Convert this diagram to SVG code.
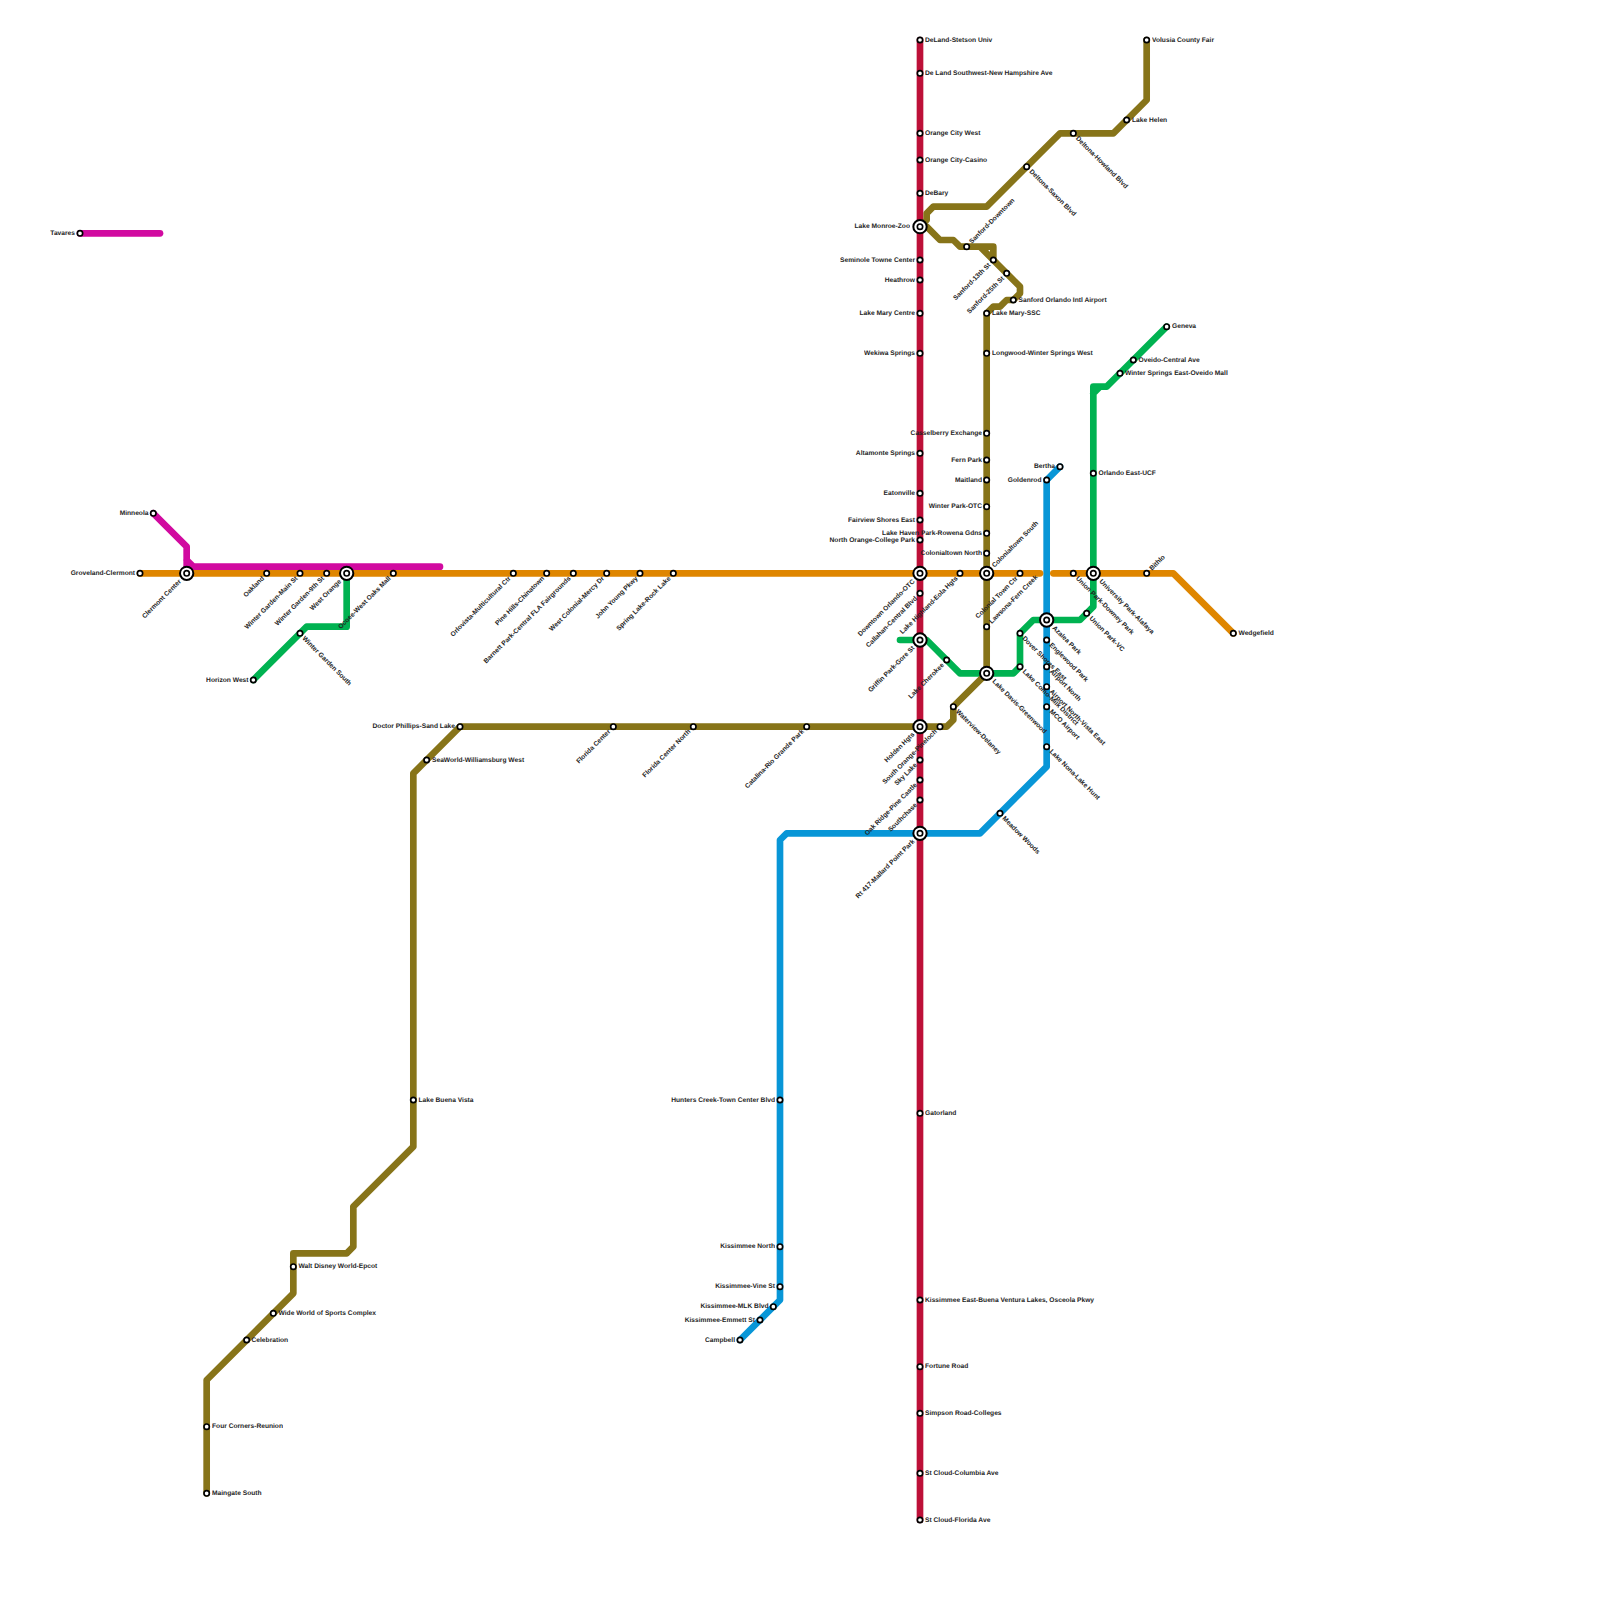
<svg xmlns="http://www.w3.org/2000/svg" width="1600" height="1600" viewBox="0 0 1600 1600">
<style>
.l{fill:none;stroke-width:6.67;stroke-linejoin:round;stroke-linecap:round}
.red{stroke:#bd1038}.org{stroke:#df8600}.olv{stroke:#877419}.blu{stroke:#0896d7}.grn{stroke:#00b251}.mag{stroke:#d10aa0}
circle{fill:#fff;stroke:#000;stroke-width:1.67}
.o{stroke-width:2}
text{font-family:"Liberation Sans",Arial,sans-serif;font-size:6.67px;font-weight:700;fill:#222;text-rendering:geometricPrecision;opacity:.99}
.e{text-anchor:end}
</style>
<rect width="1600" height="1600" fill="#fff"/>
<g id="connectors">
<path class="l red" d="M920 40V1520"/>
<path class="l blu" d="M1060 466.67L1046.67 480V766.67L980 833.33H786.67L780 840V1300L740 1340"/>
<path class="l org" d="M140 573.33H1040"/>
<path class="l org" d="M1053.33 573.33H1173.33L1233.33 633.33"/>
<path class="l mag" d="M80 233.33H160"/>
<path class="l mag" d="M153.33 513.33L186.67 546.67V573.33M186.67 560L193.33 566.67H440"/>
<path class="l grn" d="M253.33 680L306.67 626.67H346.67V573.33"/>
<path class="l grn" d="M900 640H926.67L960 673.33H1013.33L1020 666.67V633.33L1033.33 620H1080L1093.33 606.67V386.67H1106.67L1166.67 326.67M1093.33 393.33L1100 386.67"/>
<path class="l olv" d="M920 226.67L926.67 220V213.33L933.33 206.67H986.67L1060 133.33H1113.33L1146.67 100V40"/>
<path class="l olv" d="M920 226.67H926.67L940 240H953.33L960 246.67H993.33V260M980 246.67L1020 286.67V293.33L1013.33 300H1006.67L1000 306.67H993.33L986.67 313.33V673.33L953.33 706.67V720L946.67 726.67H460L413.33 773.33V1146.67L353.33 1206.67V1246.67L346.67 1253.33H293.33V1293.33L206.67 1380V1493.33"/>
</g>
<g id="red-nodes">
<g id="n-deland"><circle cx="920" cy="40" r="2.67"/><text x="925" y="41.7">DeLand-Stetson Univ</text></g>
<g id="n-delandsw"><circle cx="920" cy="73.33" r="2.67"/><text x="925" y="75">De Land Southwest-New Hampshire Ave</text></g>
<g id="n-ocwest"><circle cx="920" cy="133.33" r="2.67"/><text x="925" y="135">Orange City West</text></g>
<g id="n-occasino"><circle cx="920" cy="160" r="2.67"/><text x="925" y="161.7">Orange City-Casino</text></g>
<g id="n-debary"><circle cx="920" cy="193.33" r="2.67"/><text x="925" y="195">DeBary</text></g>
<g id="n-seminole"><circle cx="920" cy="260" r="2.67"/><text class="e" x="915" y="261.7">Seminole Towne Center</text></g>
<g id="n-heathrow"><circle cx="920" cy="280" r="2.67"/><text class="e" x="915" y="281.7">Heathrow</text></g>
<g id="n-lakemaryc"><circle cx="920" cy="313.33" r="2.67"/><text class="e" x="915" y="315">Lake Mary Centre</text></g>
<g id="n-wekiwa"><circle cx="920" cy="353.33" r="2.67"/><text class="e" x="915" y="355">Wekiwa Springs</text></g>
<g id="n-altamonte"><circle cx="920" cy="453.33" r="2.67"/><text class="e" x="915" y="455">Altamonte Springs</text></g>
<g id="n-eatonville"><circle cx="920" cy="493.33" r="2.67"/><text class="e" x="915" y="495">Eatonville</text></g>
<g id="n-fairview"><circle cx="920" cy="520" r="2.67"/><text class="e" x="915" y="521.7">Fairview Shores East</text></g>
<g id="n-northorange"><circle cx="920" cy="540" r="2.67"/><text class="e" x="915" y="541.7">North Orange-College Park</text></g>
<g id="n-callahan"><circle cx="920" cy="593.33" r="2.67"/><text class="e" x="916" y="599.5" transform="rotate(-45 916 597.33)">Callahan-Central Blvd</text></g>
<g id="n-skylake"><circle cx="920" cy="760" r="2.67"/><text class="e" x="916" y="766" transform="rotate(-45 916 764)">Sky Lake</text></g>
<g id="n-oakridge"><circle cx="920" cy="780" r="2.67"/><text class="e" x="916" y="786" transform="rotate(-45 916 784)">Oak Ridge-Pine Castle</text></g>
<g id="n-southchase"><circle cx="920" cy="800" r="2.67"/><text class="e" x="916" y="806" transform="rotate(-45 916 804)">Southchase</text></g>
<g id="n-gatorland"><circle cx="920" cy="1113.33" r="2.67"/><text x="925" y="1115">Gatorland</text></g>
<g id="n-kissimmeeeast"><circle cx="920" cy="1300" r="2.67"/><text x="925" y="1301.7">Kissimmee East-Buena Ventura Lakes, Osceola Pkwy</text></g>
<g id="n-fortune"><circle cx="920" cy="1366.67" r="2.67"/><text x="925" y="1368.4">Fortune Road</text></g>
<g id="n-simpson"><circle cx="920" cy="1413.33" r="2.67"/><text x="925" y="1415">Simpson Road-Colleges</text></g>
<g id="n-columbia"><circle cx="920" cy="1473.33" r="2.67"/><text x="925" y="1475">St Cloud-Columbia Ave</text></g>
<g id="n-florida"><circle cx="920" cy="1520" r="2.67"/><text x="925" y="1521.7">St Cloud-Florida Ave</text></g>
</g>
<g id="olive-nodes">
<g id="n-lakemaryssc"><circle cx="986.67" cy="313.33" r="2.67"/><text x="992" y="315">Lake Mary-SSC</text></g>
<g id="n-longwood"><circle cx="986.67" cy="353.33" r="2.67"/><text x="992" y="355">Longwood-Winter Springs West</text></g>
<g id="n-casselberry"><circle cx="986.67" cy="433.33" r="2.67"/><text class="e" x="982" y="435">Casselberry Exchange</text></g>
<g id="n-fernpark"><circle cx="986.67" cy="460" r="2.67"/><text class="e" x="982" y="461.7">Fern Park</text></g>
<g id="n-maitland"><circle cx="986.67" cy="480" r="2.67"/><text class="e" x="982" y="481.7">Maitland</text></g>
<g id="n-winterpark"><circle cx="986.67" cy="506.67" r="2.67"/><text class="e" x="982" y="508.4">Winter Park-OTC</text></g>
<g id="n-lakehaven"><circle cx="986.67" cy="533.33" r="2.67"/><text class="e" x="982" y="535">Lake Haven Park-Rowena Gdns</text></g>
<g id="n-colonialnorth"><circle cx="986.67" cy="553.33" r="2.67"/><text class="e" x="982" y="555">Colonialtown North</text></g>
<g id="n-lawsona"><circle cx="986.67" cy="626.67" r="2.67"/><text x="990.5" y="624.5" transform="rotate(-45 990.5 622.67)">Lawsona-Fern Creek</text></g>
<g id="n-waterview"><circle cx="953.33" cy="706.67" r="2.67"/><text x="957" y="712.5" transform="rotate(45 957 710.5)">Waterview-Delaney</text></g>
<g id="n-pineloch"><circle cx="940" cy="726.67" r="2.67"/><text class="e" x="936" y="732.5" transform="rotate(-45 936 730.67)">South Orange-Pineloch</text></g>
<g id="n-catalina"><circle cx="806.67" cy="726.67" r="2.67"/><text class="e" x="803" y="732.5" transform="rotate(-45 803 730.67)">Catalina-Rio Grande Park</text></g>
<g id="n-flcnorth"><circle cx="693.33" cy="726.67" r="2.67"/><text class="e" x="689.5" y="732.5" transform="rotate(-45 689.5 730.67)">Florida Center North</text></g>
<g id="n-flc"><circle cx="613.33" cy="726.67" r="2.67"/><text class="e" x="609.5" y="732.5" transform="rotate(-45 609.5 730.67)">Florida Center</text></g>
<g id="n-drphillips"><circle cx="460" cy="726.67" r="2.67"/><text class="e" x="455" y="728.4">Doctor Phillips-Sand Lake</text></g>
<g id="n-seaworld"><circle cx="426.67" cy="760" r="2.67"/><text x="432" y="761.7">SeaWorld-Williamsburg West</text></g>
<g id="n-buenavista"><circle cx="413.33" cy="1100" r="2.67"/><text x="418.5" y="1101.7">Lake Buena Vista</text></g>
<g id="n-wdw"><circle cx="293.33" cy="1266.67" r="2.67"/><text x="298.5" y="1268.4">Walt Disney World-Epcot</text></g>
<g id="n-wideworld"><circle cx="273.33" cy="1313.33" r="2.67"/><text x="278.5" y="1315">Wide World of Sports Complex</text></g>
<g id="n-celebration"><circle cx="246.67" cy="1340" r="2.67"/><text x="251.5" y="1341.7">Celebration</text></g>
<g id="n-fourcorners"><circle cx="206.67" cy="1426.67" r="2.67"/><text x="212" y="1428.4">Four Corners-Reunion</text></g>
<g id="n-maingate"><circle cx="206.67" cy="1493.33" r="2.67"/><text x="212" y="1495">Maingate South</text></g>
<g id="n-sanforddt"><circle cx="966.67" cy="246.67" r="2.67"/><text x="970.5" y="244.5" transform="rotate(-45 970.5 242.67)">Sanford-Downtown</text></g>
<g id="n-sanford13"><circle cx="993.33" cy="260" r="2.67"/><text class="e" x="989.5" y="266" transform="rotate(-45 989.5 264)">Sanford-13th St</text></g>
<g id="n-sanford25"><circle cx="1006.67" cy="273.33" r="2.67"/><text class="e" x="1003" y="279.5" transform="rotate(-45 1003 277.33)">Sanford-25th St</text></g>
<g id="n-sanfordintl"><circle cx="1013.33" cy="300" r="2.67"/><text x="1018.5" y="301.7">Sanford Orlando Intl Airport</text></g>
<g id="n-saxon"><circle cx="1026.67" cy="166.67" r="2.67"/><text x="1030.5" y="172.5" transform="rotate(45 1030.5 170.5)">Deltona-Saxon Blvd</text></g>
<g id="n-howland"><circle cx="1073.33" cy="133.33" r="2.67"/><text x="1077" y="139.5" transform="rotate(45 1077 137.33)">Deltona-Howland Blvd</text></g>
<g id="n-lakehelen"><circle cx="1126.67" cy="120" r="2.67"/><text x="1132" y="121.7">Lake Helen</text></g>
<g id="n-volusia"><circle cx="1146.67" cy="40" r="2.67"/><text x="1152" y="41.7">Volusia County Fair</text></g>
</g>
<g id="orange-nodes">
<g id="n-groveland"><circle cx="140" cy="573.33" r="2.67"/><text class="e" x="135" y="575">Groveland-Clermont</text></g>
<g id="n-oakland"><circle cx="266.67" cy="573.33" r="2.67"/><text class="e" x="263" y="579.5" transform="rotate(-45 263 577.33)">Oakland</text></g>
<g id="n-wgmain"><circle cx="300" cy="573.33" r="2.67"/><text class="e" x="296.5" y="579.5" transform="rotate(-45 296.5 577.33)">Winter Garden-Main St</text></g>
<g id="n-wg9th"><circle cx="326.67" cy="573.33" r="2.67"/><text class="e" x="323" y="579.5" transform="rotate(-45 323 577.33)">Winter Garden-9th St</text></g>
<g id="n-ocoee"><circle cx="393.33" cy="573.33" r="2.67"/><text class="e" x="389.5" y="579.5" transform="rotate(-45 389.5 577.33)">Ocoee-West Oaks Mall</text></g>
<g id="n-orlovista"><circle cx="513.33" cy="573.33" r="2.67"/><text class="e" x="509.5" y="579.5" transform="rotate(-45 509.5 577.33)">Orlovista-Multicultural Ctr</text></g>
<g id="n-pinehills"><circle cx="546.67" cy="573.33" r="2.67"/><text class="e" x="543" y="579.5" transform="rotate(-45 543 577.33)">Pine Hills-Chinatown</text></g>
<g id="n-barnett"><circle cx="573.33" cy="573.33" r="2.67"/><text class="e" x="569.5" y="579.5" transform="rotate(-45 569.5 577.33)">Barnett Park-Central FLA Fairgrounds</text></g>
<g id="n-westcolonial"><circle cx="606.67" cy="573.33" r="2.67"/><text class="e" x="603" y="579.5" transform="rotate(-45 603 577.33)">West Colonial-Mercy Dr</text></g>
<g id="n-johnyoung"><circle cx="640" cy="573.33" r="2.67"/><text class="e" x="636.5" y="579.5" transform="rotate(-45 636.5 577.33)">John Young Pkwy</text></g>
<g id="n-springlake"><circle cx="673.33" cy="573.33" r="2.67"/><text class="e" x="669.5" y="579.5" transform="rotate(-45 669.5 577.33)">Spring Lake-Rock Lake</text></g>
<g id="n-highland"><circle cx="960" cy="573.33" r="2.67"/><text class="e" x="956.5" y="579.5" transform="rotate(-45 956.5 577.33)">Lake Highland-Eola Hgts</text></g>
<g id="n-colonialctr"><circle cx="1020" cy="573.33" r="2.67"/><text class="e" x="1016.5" y="579.5" transform="rotate(-45 1016.5 577.33)">Colonial Town Ctr</text></g>
<g id="n-unionpark"><circle cx="1073.33" cy="573.33" r="2.67"/><text x="1077" y="579.5" transform="rotate(45 1077 577.33)">Union Park-Downey Park</text></g>
<g id="n-bithlo"><circle cx="1146.67" cy="573.33" r="2.67"/><text x="1150.5" y="571.5" transform="rotate(-45 1150.5 569.33)">Bithlo</text></g>
<g id="n-wedgefield"><circle cx="1233.33" cy="633.33" r="2.67"/><text x="1238.5" y="635">Wedgefield</text></g>
</g>
<g id="magenta-nodes">
<g id="n-tavares"><circle cx="80" cy="233.33" r="2.67"/><text class="e" x="75" y="235">Tavares</text></g>
<g id="n-minneola"><circle cx="153.33" cy="513.33" r="2.67"/><text class="e" x="148.5" y="515">Minneola</text></g>
</g>
<g id="green-nodes">
<g id="n-horizon"><circle cx="253.33" cy="680" r="2.67"/><text class="e" x="248.5" y="681.7">Horizon West</text></g>
<g id="n-wgsouth"><circle cx="300" cy="633.33" r="2.67"/><text x="303.5" y="639.5" transform="rotate(45 303.5 637.33)">Winter Garden South</text></g>
<g id="n-cherokee"><circle cx="946.67" cy="660" r="2.67"/><text class="e" x="943" y="666" transform="rotate(-45 943 664)">Lake Cherokee</text></g>
<g id="n-dover"><circle cx="1020" cy="633.33" r="2.67"/><text x="1023.5" y="639.5" transform="rotate(45 1023.5 637.33)">Dover Shores East</text></g>
<g id="n-como"><circle cx="1020" cy="666.67" r="2.67"/><text x="1023.5" y="672.5" transform="rotate(45 1023.5 670.67)">Lake Como-Milk District</text></g>
<g id="n-unionvc"><circle cx="1086.67" cy="613.33" r="2.67"/><text x="1090.5" y="619.5" transform="rotate(45 1090.5 617.33)">Union Park-VC</text></g>
<g id="n-ucf"><circle cx="1093.33" cy="473.33" r="2.67"/><text x="1098.5" y="475">Orlando East-UCF</text></g>
<g id="n-wintersprings"><circle cx="1120" cy="373.33" r="2.67"/><text x="1125" y="375">Winter Springs East-Oveido Mall</text></g>
<g id="n-oveido"><circle cx="1133.33" cy="360" r="2.67"/><text x="1138.5" y="361.7">Oveido-Central Ave</text></g>
<g id="n-geneva"><circle cx="1166.67" cy="326.67" r="2.67"/><text x="1172" y="328.4">Geneva</text></g>
</g>
<g id="blue-nodes">
<g id="n-bertha"><circle cx="1060" cy="466.67" r="2.67"/><text class="e" x="1055" y="468.4">Bertha</text></g>
<g id="n-goldenrod"><circle cx="1046.67" cy="480" r="2.67"/><text class="e" x="1041.5" y="481.7">Goldenrod</text></g>
<g id="n-englewood"><circle cx="1046.67" cy="640" r="2.67"/><text x="1050.5" y="646" transform="rotate(45 1050.5 644)">Englewood Park</text></g>
<g id="n-airportn"><circle cx="1046.67" cy="666.67" r="2.67"/><text x="1050.5" y="672.5" transform="rotate(45 1050.5 670.67)">Airport North</text></g>
<g id="n-airportvista"><circle cx="1046.67" cy="686.67" r="2.67"/><text x="1050.5" y="692.5" transform="rotate(45 1050.5 690.67)">Airport North-Vista East</text></g>
<g id="n-mco"><circle cx="1046.67" cy="706.67" r="2.67"/><text x="1050.5" y="712.5" transform="rotate(45 1050.5 710.67)">MCO Airport</text></g>
<g id="n-nona"><circle cx="1046.67" cy="746.67" r="2.67"/><text x="1050.5" y="752.5" transform="rotate(45 1050.5 750.67)">Lake Nona-Lake Hunt</text></g>
<g id="n-meadow"><circle cx="1000" cy="813.33" r="2.67"/><text x="1003.5" y="819.5" transform="rotate(45 1003.5 817.33)">Meadow Woods</text></g>
<g id="n-hunters"><circle cx="780" cy="1100" r="2.67"/><text class="e" x="775" y="1101.7">Hunters Creek-Town Center Blvd</text></g>
<g id="n-kissnorth"><circle cx="780" cy="1246.67" r="2.67"/><text class="e" x="775" y="1248.4">Kissimmee North</text></g>
<g id="n-vine"><circle cx="780" cy="1286.67" r="2.67"/><text class="e" x="775" y="1288.4">Kissimmee-Vine St</text></g>
<g id="n-mlk"><circle cx="773.33" cy="1306.67" r="2.67"/><text class="e" x="768.5" y="1308.4">Kissimmee-MLK Blvd</text></g>
<g id="n-emmett"><circle cx="760" cy="1320" r="2.67"/><text class="e" x="755" y="1321.7">Kissimmee-Emmett St</text></g>
<g id="n-campbell"><circle cx="740" cy="1340" r="2.67"/><text class="e" x="735" y="1341.7">Campbell</text></g>
</g>
<g id="interchanges">
<g id="x-clermont"><circle class="o" cx="186.67" cy="573.33" r="6.67"/><circle cx="186.67" cy="573.33" r="2.67"/><text class="e" x="180" y="582.5" transform="rotate(-45 180 580.33)">Clermont Center</text></g>
<g id="x-westorange"><circle class="o" cx="346.67" cy="573.33" r="6.67"/><circle cx="346.67" cy="573.33" r="2.67"/><text class="e" x="340" y="582.5" transform="rotate(-45 340 580.33)">West Orange</text></g>
<g id="x-monroe"><circle class="o" cx="920" cy="226.67" r="6.67"/><circle cx="920" cy="226.67" r="2.67"/><text class="e" x="910" y="228.4">Lake Monroe-Zoo</text></g>
<g id="x-downtown"><circle class="o" cx="920" cy="573.33" r="6.67"/><circle cx="920" cy="573.33" r="2.67"/><text class="e" x="913.5" y="582.5" transform="rotate(-45 913.5 580.33)">Downtown Orlando-OTC</text></g>
<g id="x-griffin"><circle class="o" cx="920" cy="640" r="6.67"/><circle cx="920" cy="640" r="2.67"/><text class="e" x="913.5" y="649" transform="rotate(-45 913.5 647)">Griffin Park-Gore St</text></g>
<g id="x-holden"><circle class="o" cx="920" cy="726.67" r="6.67"/><circle cx="920" cy="726.67" r="2.67"/><text class="e" x="913.5" y="735.5" transform="rotate(-45 913.5 733.67)">Holden Hgts</text></g>
<g id="x-rt417"><circle class="o" cx="920" cy="833.33" r="6.67"/><circle cx="920" cy="833.33" r="2.67"/><text class="e" x="913.5" y="842.5" transform="rotate(-45 913.5 840.33)">Rt 417-Mallard Point Park</text></g>
<g id="x-coltown"><circle class="o" cx="986.67" cy="573.33" r="6.67"/><circle cx="986.67" cy="573.33" r="2.67"/><text x="993" y="568.5" transform="rotate(-45 993 566.33)">Colonialtown South</text></g>
<g id="x-davis"><circle class="o" cx="986.67" cy="673.33" r="6.67"/><circle cx="986.67" cy="673.33" r="2.67"/><text x="993.5" y="682.5" transform="rotate(45 993.5 680.33)">Lake Davis-Greenwood</text></g>
<g id="x-azalea"><circle class="o" cx="1046.67" cy="620" r="6.67"/><circle cx="1046.67" cy="620" r="2.67"/><text x="1053.5" y="629" transform="rotate(45 1053.5 627)">Azalea Park</text></g>
<g id="x-university"><circle class="o" cx="1093.33" cy="573.33" r="6.67"/><circle cx="1093.33" cy="573.33" r="2.67"/><text x="1100.5" y="582.5" transform="rotate(45 1100.5 580.33)">University Park-Alafaya</text></g>
</g>
</svg>
